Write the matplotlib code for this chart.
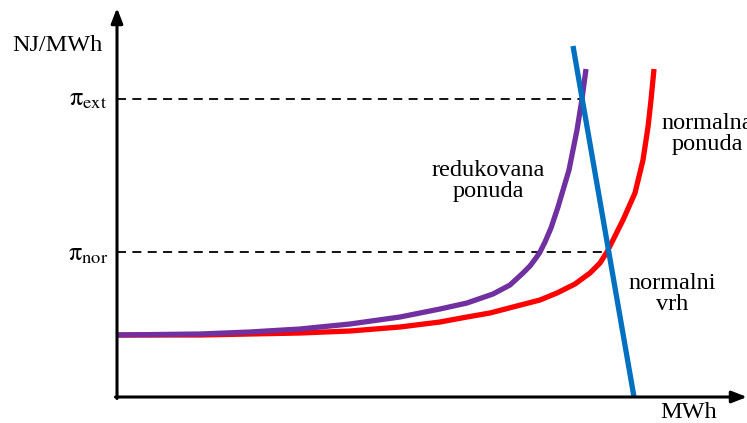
import matplotlib
matplotlib.use("Agg")
import matplotlib.pyplot as plt

plt.rcParams["font.family"] = ["Liberation Serif", "DejaVu Serif"]
plt.rcParams["mathtext.fontset"] = "stix"

# quantity (MWh) vs price (NJ/MWh), arbitrary schematic units
red_q = [0, 83, 133, 183, 233, 283, 323, 350, 373, 396, 423, 440, 458, 473, 483, 490, 496, 506, 518, 526, 531, 534, 537]
red_p = [62, 62, 63, 64, 66, 70, 75, 80, 84, 90, 97, 104, 113, 124, 134, 145, 157, 177, 204, 237, 270, 297, 328]
purple_q = [0, 83, 133, 183, 233, 283, 323, 350, 376, 393, 406, 413, 419, 423, 428, 434, 441, 452, 460, 465, 469]
purple_p = [62, 63, 65, 68, 73, 80, 88, 94, 103, 112, 124, 131, 139, 145, 155, 169, 190, 227, 267, 298, 328]
demand_q = [456, 517]
demand_p = [351, 0]
p_ext = 298
p_nor = 145
ext_end = 465
nor_end = 490

fig = plt.figure(figsize=(7.47, 4.23), dpi=100)
ax = fig.add_axes([0, 0, 1, 1])
ax.set_xlim(-117, 630)
ax.set_ylim(-26, 397)
ax.axis("off")

# axes with arrows
arr = dict(arrowstyle="-|>,head_length=0.9,head_width=0.35", color="black", lw=2.2,
           shrinkA=0, shrinkB=0)
ax.annotate("", xy=(0, 389), xytext=(0, -1.5), arrowprops=arr, annotation_clip=False)
ax.annotate("", xy=(630, 0), xytext=(-1.5, 0), arrowprops=arr, annotation_clip=False)

# price levels
ax.plot([0, ext_end], [p_ext, p_ext], color="black", lw=1.3, ls=(0, (5, 3.5)))
ax.plot([0, nor_end], [p_nor, p_nor], color="black", lw=1.3, ls=(0, (5, 3.5)))

ax.plot(red_q, red_p, color="#ff0000", lw=3.8, solid_capstyle="butt")
ax.plot(purple_q, purple_p, color="#7030a0", lw=3.8, solid_capstyle="butt")
ax.plot(demand_q, demand_p, color="#0070c0", lw=3.8, solid_capstyle="butt")

fs = 17.5
ax.text(-60, 352, "NJ/MWh", fontsize=fs, ha="center", va="center")
ax.text(-10, 297, r"$\mathrm{\pi}_{\mathrm{ext}}$", fontsize=fs + 1.5, ha="right", va="center")
ax.text(-9, 142, r"$\mathrm{\pi}_{\mathrm{nor}}$", fontsize=fs + 1.5, ha="right", va="center")
ax.text(371, 216, "redukovana\nponuda", fontsize=fs, ha="center", va="center", linespacing=0.95)
ax.text(590, 263, "normalna\nponuda", fontsize=fs, ha="center", va="center", linespacing=0.95)
ax.text(555, 103, "normalni\nvrh", fontsize=fs, ha="center", va="center", linespacing=0.95)
ax.text(572, -15, "MWh", fontsize=fs, ha="center", va="center")

fig.savefig("out.png", dpi=100)
